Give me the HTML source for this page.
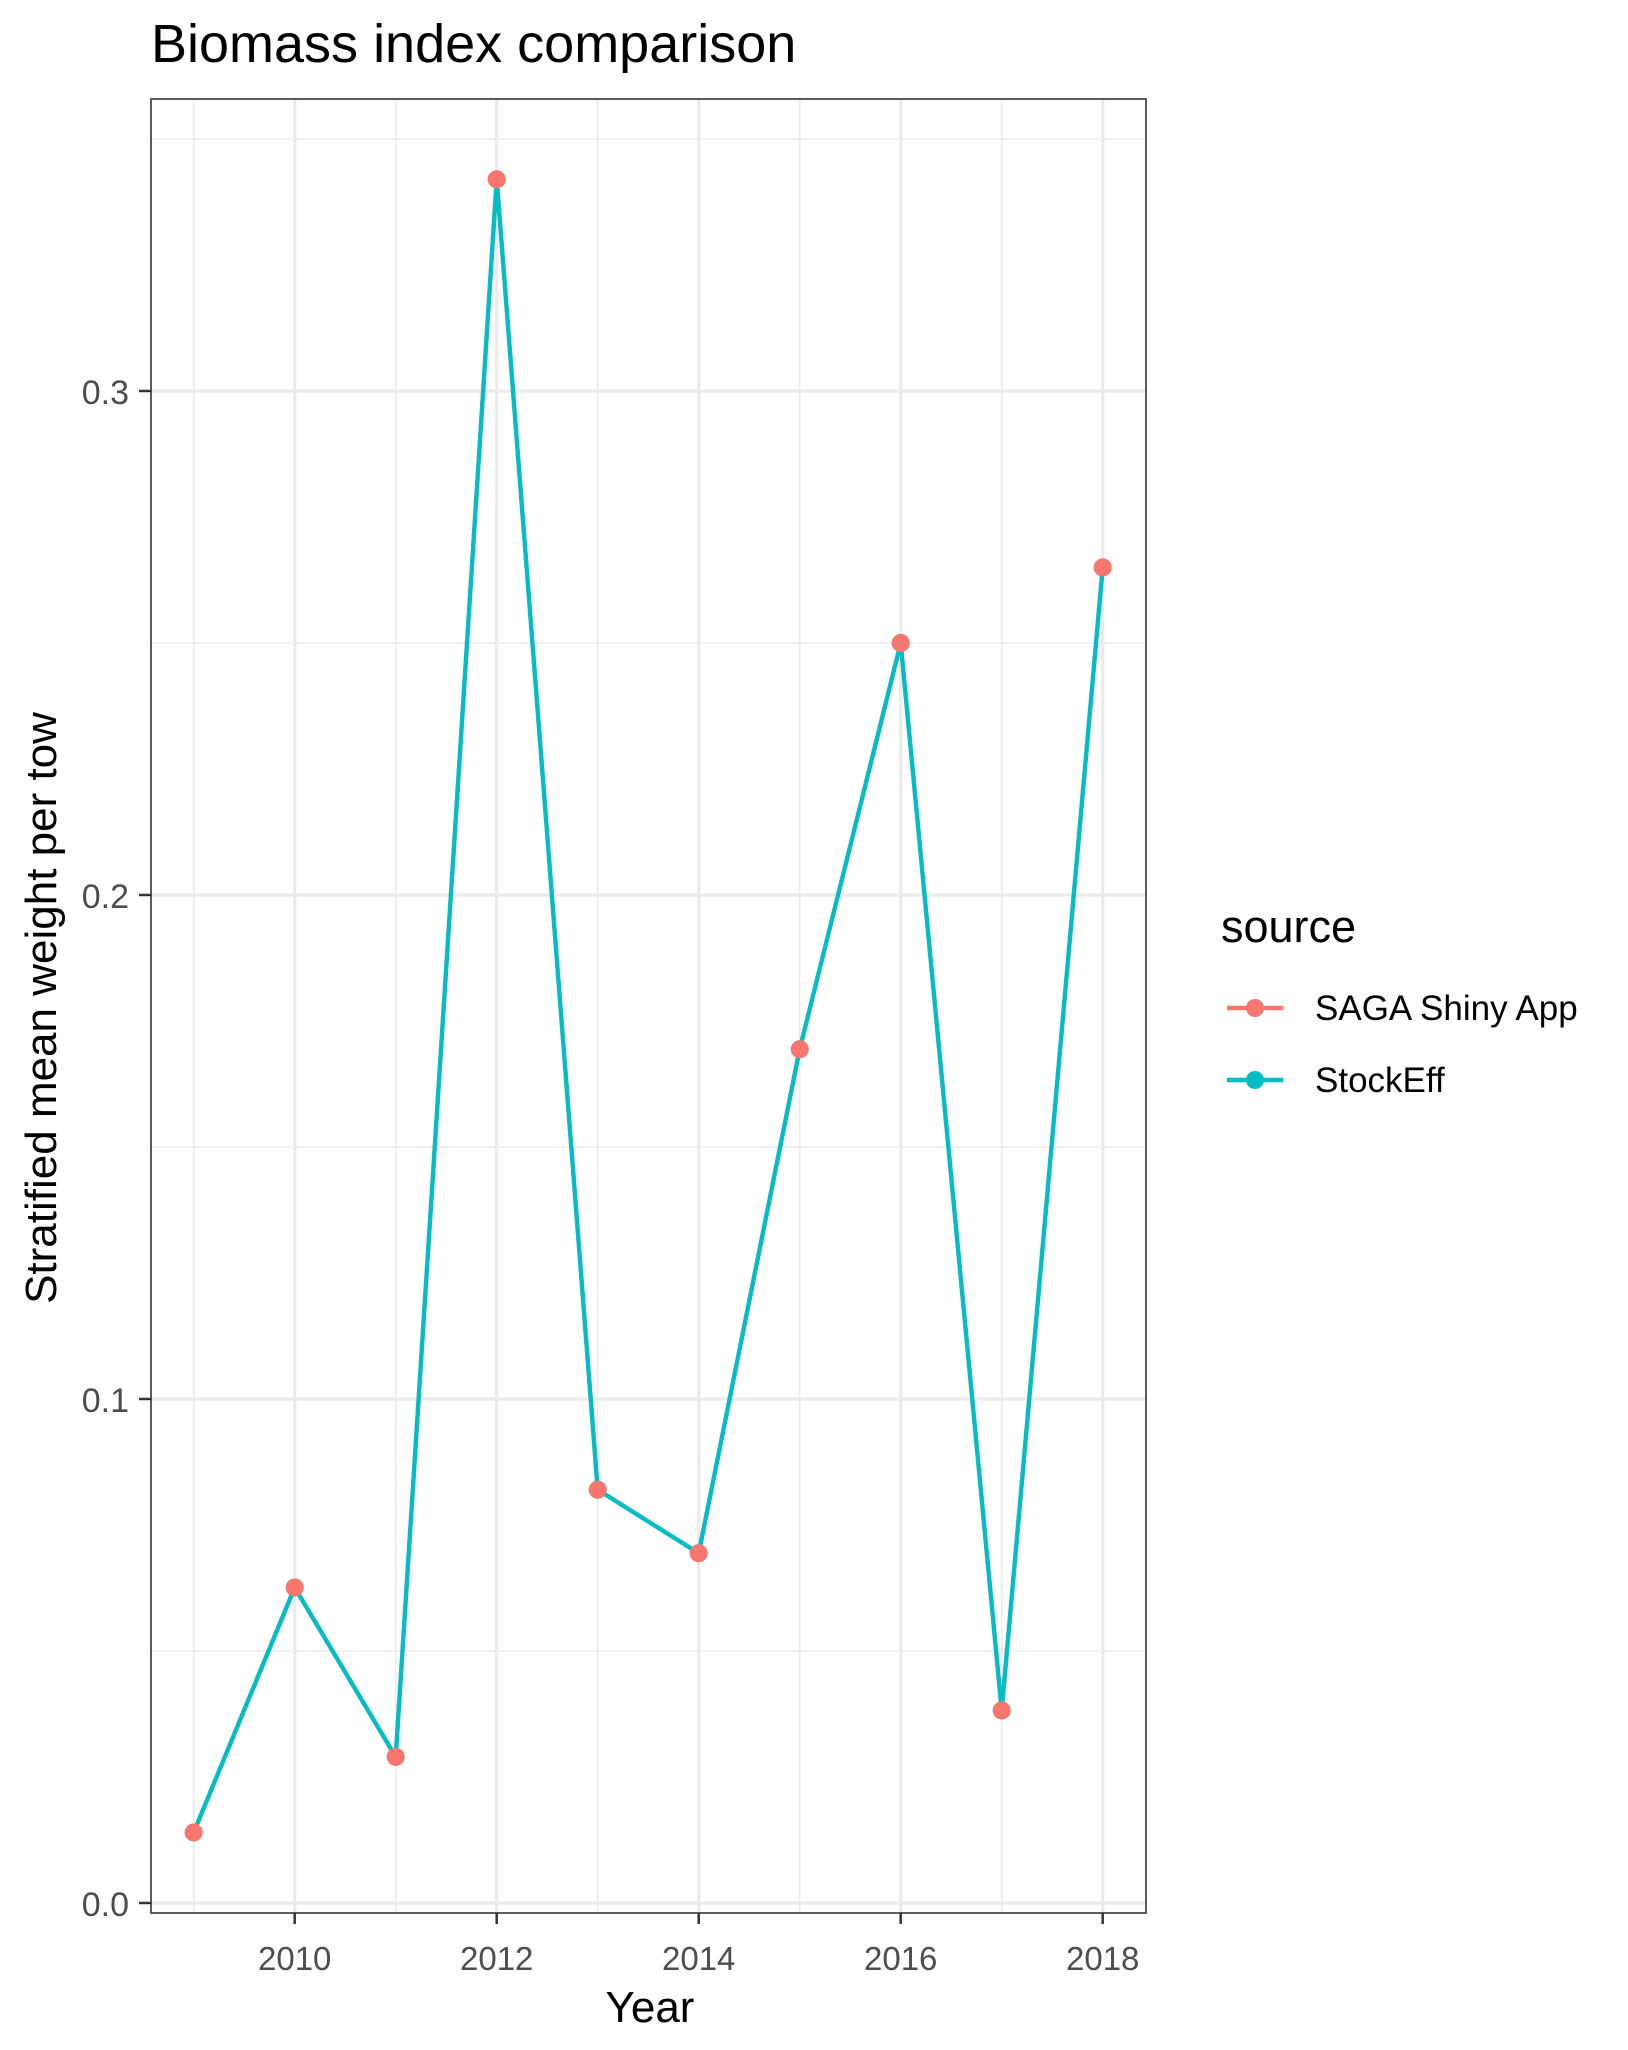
<!DOCTYPE html>
<html><head><meta charset="utf-8"><style>
body{margin:0;background:#fff}
svg{display:block;font-family:"Liberation Sans",Arial,sans-serif}
</style></head><body>
<svg id="chart" width="1628" height="2050" viewBox="0 0 1628 2050">
<text x="151" y="62" font-size="54" fill="#000">Biomass index comparison</text>
<rect x="151" y="99" width="995" height="1814" fill="#fff"/>
<g id="grid"></g>
<g id="series"></g>
<rect x="151" y="99" width="995" height="1814" fill="none" stroke="#333" stroke-width="1.6"/>
<g id="axes"></g>
<text x="650" y="2022" font-size="44" text-anchor="middle">Year</text>
<text transform="translate(56,1008) rotate(-90)" font-size="44" text-anchor="middle">Stratified mean weight per tow</text>
<g>
<text x="1221" y="942" font-size="45">source</text>
<g>
<line x1="1227" y1="1008" x2="1283" y2="1008" stroke="#F8766D" stroke-width="4.5"/>
<circle cx="1255" cy="1008" r="9" fill="#F8766D"/>
<text x="1315" y="1020" font-size="35">SAGA Shiny App</text></g>
<g>
<line x1="1227" y1="1080" x2="1283" y2="1080" stroke="#00BFC4" stroke-width="4.5"/>
<circle cx="1255" cy="1080" r="9" fill="#00BFC4"/>
<text x="1315" y="1092" font-size="35">StockEff</text></g>
</g>
</svg>
<script>
const years=[2009,2010,2011,2012,2013,2014,2015,2016,2017,2018];
const sagaValues=[0.014,0.0626,0.029,0.342,0.082,0.0694,0.1694,0.250,0.0382,0.265];
const stockEffValues=[0.014,0.0626,0.029,0.342,0.082,0.0694,0.1694,0.250,0.0382,0.265];
const yTicks=[0.0,0.1,0.2,0.3];
const yTickLabels=["0.0","0.1","0.2","0.3"];
const yMinor=[0.05,0.15,0.25,0.35];
const xTicks=[2010,2012,2014,2016,2018];
const xTickLabels=["2010","2012","2014","2016","2018"];
const xMinor=[2009,2011,2013,2015,2017];
const NS="http://www.w3.org/2000/svg";
const X=v=>496.7+(v-2012)*101;
const Y=v=>1903-v*5040;
function mk(tag,attrs,parent){const e=document.createElementNS(NS,tag);for(const k in attrs)e.setAttribute(k,attrs[k]);parent.appendChild(e);return e;}
const grid=document.getElementById('grid'),axes=document.getElementById('axes'),ser=document.getElementById('series');
yMinor.forEach(v=>{const l=mk('line',{x1:151,x2:1146,y1:Y(v),y2:Y(v),stroke:'#ebebeb','stroke-width':1.6},grid);

});
xMinor.forEach(v=>{const l=mk('line',{x1:X(v),x2:X(v),y1:99,y2:1913,stroke:'#ebebeb','stroke-width':1.6},grid);

});
yTicks.forEach((v,i)=>{const l=mk('line',{x1:151,x2:1146,y1:Y(v),y2:Y(v),stroke:'#ebebeb','stroke-width':3.2},grid);


const t=mk('line',{x1:139,x2:151,y1:Y(v),y2:Y(v),stroke:'#333','stroke-width':2.5},axes);


const tx=mk('text',{x:129,y:Y(v)+13,'font-size':34,'text-anchor':'end',fill:'#4d4d4d'},axes);tx.textContent=yTickLabels[i];

});
xTicks.forEach((v,i)=>{const l=mk('line',{x1:X(v),x2:X(v),y1:99,y2:1913,stroke:'#ebebeb','stroke-width':3.2},grid);


const t=mk('line',{x1:X(v),x2:X(v),y1:1913,y2:1924,stroke:'#333','stroke-width':2.5},axes);


const tx=mk('text',{x:X(v),y:1970,'font-size':33,'text-anchor':'middle',fill:'#4d4d4d'},axes);tx.textContent=xTickLabels[i];

});
function line(vals,color,name){const p=mk('polyline',{points:years.map((y,i)=>X(y)+','+Y(vals[i])).join(' '),fill:'none',stroke:color,'stroke-width':4.3,'stroke-linejoin':'round'},ser);

}
function pts(vals,color,name){years.forEach((y,i)=>{const c=mk('circle',{cx:X(y),cy:Y(vals[i]),r:9,fill:color},ser);

});}
line(sagaValues,'#F8766D','saga-line');
line(stockEffValues,'#00BFC4','stockeff-line');
pts(stockEffValues,'#00BFC4','stockeff-point');
pts(sagaValues,'#F8766D','saga-point');
</script>
</body></html>
